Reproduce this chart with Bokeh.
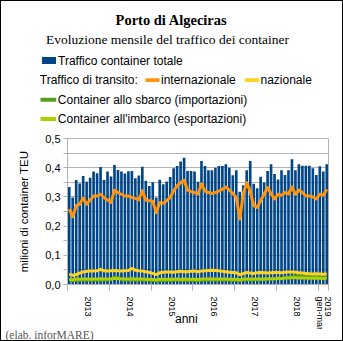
import math
from bokeh.plotting import figure
from bokeh.layouts import column
from bokeh.models import Range1d, FixedTicker, ColumnDataSource
from bokeh.core.properties import value
from bokeh.embed import file_html
from bokeh.resources import INLINE

# ---------------- data (milioni di TEU, mensile gen-2013 .. mar-2019) ----------------
total = [
    0.334, 0.298, 0.358, 0.346, 0.372, 0.352, 0.366, 0.387, 0.381, 0.402, 0.358, 0.387,  # 2013
    0.370, 0.409, 0.392, 0.387, 0.380, 0.388, 0.389, 0.364, 0.373, 0.403, 0.355, 0.337,  # 2014
    0.350, 0.298, 0.359, 0.343, 0.353, 0.368, 0.398, 0.406, 0.421, 0.434, 0.389, 0.389,  # 2015
    0.387, 0.352, 0.423, 0.406, 0.391, 0.391, 0.400, 0.406, 0.406, 0.412, 0.400, 0.374,  # 2016
    0.391, 0.318, 0.340, 0.391, 0.423, 0.345, 0.330, 0.369, 0.349, 0.389, 0.412, 0.378,  # 2017
    0.360, 0.391, 0.375, 0.391, 0.429, 0.391, 0.412, 0.407, 0.407, 0.407, 0.398, 0.375,  # 2018
    0.405, 0.387, 0.412,                                                                  # 2019
]
transit_int = [
    0.258, 0.232, 0.270, 0.275, 0.296, 0.275, 0.289, 0.303, 0.303, 0.309, 0.298, 0.289,
    0.281, 0.323, 0.315, 0.309, 0.303, 0.303, 0.298, 0.295, 0.290, 0.321, 0.289, 0.287,
    0.285, 0.246, 0.281, 0.278, 0.287, 0.298, 0.321, 0.338, 0.349, 0.357, 0.323, 0.318,
    0.315, 0.310, 0.345, 0.320, 0.315, 0.312, 0.315, 0.320, 0.326, 0.334, 0.323, 0.312,
    0.298, 0.224, 0.310, 0.349, 0.320, 0.270, 0.264, 0.287, 0.309, 0.332, 0.311, 0.293,
    0.309, 0.305, 0.315, 0.310, 0.334, 0.309, 0.323, 0.315, 0.303, 0.303, 0.300, 0.293,
    0.309, 0.305, 0.326,
]
transit_naz = [
    0.036, 0.031, 0.034, 0.039, 0.043, 0.045, 0.046, 0.046, 0.047, 0.052, 0.047, 0.046,
    0.047, 0.048, 0.047, 0.046, 0.047, 0.048, 0.055, 0.049, 0.047, 0.046, 0.044, 0.041,
    0.038, 0.034, 0.040, 0.042, 0.043, 0.043, 0.042, 0.044, 0.045, 0.044, 0.044, 0.045,
    0.046, 0.044, 0.046, 0.047, 0.048, 0.049, 0.048, 0.047, 0.045, 0.044, 0.042, 0.041,
    0.040, 0.034, 0.037, 0.041, 0.039, 0.038, 0.040, 0.041, 0.040, 0.039, 0.040, 0.041,
    0.041, 0.040, 0.042, 0.043, 0.043, 0.042, 0.040, 0.039, 0.038, 0.037, 0.036, 0.037,
    0.036, 0.035, 0.037,
]
imports = [
    0.016, 0.013, 0.015, 0.015, 0.016, 0.015, 0.015, 0.016, 0.015, 0.016, 0.015, 0.016,
    0.018, 0.026, 0.024, 0.019, 0.016, 0.015, 0.016, 0.015, 0.016, 0.015, 0.015, 0.014,
    0.014, 0.012, 0.014, 0.014, 0.015, 0.014, 0.015, 0.015, 0.014, 0.015, 0.014, 0.014,
    0.014, 0.013, 0.015, 0.015, 0.015, 0.015, 0.016, 0.015, 0.015, 0.016, 0.015, 0.014,
    0.015, 0.013, 0.016, 0.016, 0.015, 0.016, 0.016, 0.017, 0.017, 0.018, 0.019, 0.020,
    0.021, 0.021, 0.024, 0.025, 0.027, 0.029, 0.030, 0.029, 0.028, 0.028, 0.027, 0.027,
    0.026, 0.025, 0.027,
]
exports = [
    0.018, 0.016, 0.019, 0.018, 0.019, 0.019, 0.018, 0.019, 0.019, 0.020, 0.019, 0.019,
    0.019, 0.021, 0.020, 0.019, 0.019, 0.019, 0.020, 0.019, 0.019, 0.019, 0.018, 0.018,
    0.017, 0.016, 0.018, 0.018, 0.018, 0.018, 0.018, 0.019, 0.018, 0.019, 0.018, 0.018,
    0.018, 0.017, 0.019, 0.019, 0.019, 0.019, 0.019, 0.019, 0.019, 0.019, 0.018, 0.018,
    0.018, 0.016, 0.019, 0.019, 0.019, 0.019, 0.019, 0.019, 0.019, 0.020, 0.020, 0.020,
    0.021, 0.020, 0.022, 0.022, 0.023, 0.023, 0.022, 0.022, 0.022, 0.021, 0.021, 0.021,
    0.021, 0.020, 0.022,
]

year_bounds = [0, 12, 24, 36, 48, 60, 72, 75]
year_label_pos = [6, 18, 30, 42, 54, 66, 72.5, 74.95]
year_labels = ["2013", "2014", "2015", "2016", "2017", "2018", "gen-mar", "2019"]
y_ticks = [0.0, 0.1, 0.2, 0.3, 0.4, 0.5]
y_tick_labels = ["0,0", "0,1", "0,2", "0,3", "0,4", "0,5"]
y_minor = [0.05, 0.15, 0.25, 0.35, 0.45]

legend_texts = ["Traffico container totale", "Traffico di transito:", "internazionale",
                "nazionale", "Container allo sbarco (importazioni)",
                "Container all'imbarco (esportazioni)"]
legend_colors = ["#004586", "#ff950e", "#ffd320", "#579d1c", "#aecf00"]

n = len(total)
xs = [i + 0.5 for i in range(n)]
src = ColumnDataSource(dict(x=xs, total=total, ti=transit_int, tn=transit_naz,
                            imp=imports, exp=exports))

SANS = "Liberation Sans"
SERIF = "Liberation Serif"
GRID = "#b3b3b3"
IW = 341            # inner width (inside 1px black frame)
HH = 129            # header height  (page y 1..130)
MH = 199            # main height    (page y 130..329)
FH = 11             # footer height  (page y 329..340)


def blank_fig(height, y0):
    f = figure(width=IW, height=height, output_backend="svg", toolbar_location=None,
               x_range=Range1d(1, 1 + IW), y_range=Range1d(y0 + height, y0),
               x_axis_type=None, y_axis_type=None, min_border=0)
    f.frame_align = False
    f.outline_line_color = None
    f.background_fill_color = "white"
    f.border_fill_color = "white"
    f.grid.visible = False
    return f

# ---------------- header: title + legend (data coords = page pixels) ----------------
h = blank_fig(HH, 1)
h.text(x=[171], y=[19], text=["Porto di Algeciras"], text_font=value(SERIF),
       text_font_size="14.5px", text_font_style="bold", text_align="center",
       text_baseline="middle", text_color="black")
h.text(x=[167], y=[38.5], text=["Evoluzione mensile del traffico dei container"],
       text_font=value(SERIF), text_font_size="13.5px", text_align="center",
       text_baseline="middle", text_color="black")
h.text(x=[57.5, 39.3, 160.5, 260, 57.3, 57.3], y=[60, 79.5, 79.5, 79.5, 99.3, 118.5],
       text=legend_texts, text_font=value(SANS), text_font_size="12px",
       text_align="left", text_baseline="middle", text_color="black")
h.quad(left=[41.5, 145, 244.3, 40, 40], right=[55.5, 159, 258.7, 55.7, 55.7],
       top=[56.5, 77.7, 77.7, 97.3, 116.6], bottom=[63.5, 81.5, 81.5, 101.2, 120.5],
       fill_color=legend_colors, line_color=None)

# ---------------- main chart ----------------
FL, FR, FT, FB = 66, 327, 8, 154   # frame inside the main figure
p = figure(width=IW, height=MH, output_backend="svg", toolbar_location=None,
           x_range=Range1d(0, 75), y_range=Range1d(0, 0.5),
           min_border_left=FL, min_border_right=IW - FR,
           min_border_top=FT, min_border_bottom=MH - FB)
p.frame_align = False
p.background_fill_color = "white"
p.border_fill_color = "white"
p.outline_line_color = GRID

p.vbar(x="x", top="total", width=0.76, source=src, fill_color="#004586", line_color=None)
p.line("x", "imp", source=src, line_color="#579d1c", line_width=3, line_join="round")
p.line("x", "exp", source=src, line_color="#aecf00", line_width=3, line_join="round")
p.line("x", "tn", source=src, line_color="#ffd320", line_width=3, line_join="round")
p.line("x", "ti", source=src, line_color="#ff950e", line_width=3, line_join="round")

ya = p.yaxis[0]
ya.ticker = FixedTicker(ticks=y_ticks, minor_ticks=y_minor)
ya.major_label_overrides = dict(zip(y_ticks, y_tick_labels))
ya.axis_line_color = GRID
ya.major_tick_line_color = GRID
ya.minor_tick_line_color = GRID
ya.major_tick_in = 0
ya.major_tick_out = 4
ya.minor_tick_in = 0
ya.minor_tick_out = 4
ya.major_label_standoff = 3
ya.major_label_text_font = SANS
ya.major_label_text_font_size = "11px"
ya.major_label_text_color = "black"
ya.axis_label = "milioni di container TEU"
ya.axis_label_text_font = SANS
ya.axis_label_text_font_size = "11.5px"
ya.axis_label_text_font_style = "normal"
ya.axis_label_text_color = "black"
ya.axis_label_standoff = 12

p.ygrid.grid_line_color = GRID
p.ygrid.minor_grid_line_color = GRID
p.xgrid.visible = False

xa = p.xaxis[0]
xa.ticker = FixedTicker(ticks=year_label_pos, minor_ticks=year_bounds)
xa.major_label_overrides = dict(zip(year_label_pos, year_labels))
xa.axis_line_color = GRID
xa.major_tick_line_color = None
xa.major_tick_in = 0
xa.major_tick_out = 0
xa.minor_tick_line_color = GRID
xa.minor_tick_in = 0
xa.minor_tick_out = 6
xa.major_label_orientation = -math.pi / 2
xa.major_label_standoff = 6
xa.major_label_text_font = SANS
xa.major_label_text_font_size = "9px"
xa.major_label_text_color = "black"
xa.axis_label = "anni" + "\u00a0" * 7
xa.axis_label_text_font = SANS
xa.axis_label_text_font_size = "12px"
xa.axis_label_text_font_style = "normal"
xa.axis_label_text_color = "black"
xa.axis_label_standoff = -21

# ---------------- footer: source note ----------------
foot = blank_fig(FH, 1 + HH + MH)
foot.text(x=[5], y=[333.5], text=["(elab. inforMARE)"], text_font=value(SERIF),
          text_font_size="11.5px", text_align="left", text_baseline="middle",
          text_color="#555555")

layout = column(h, p, foot, spacing=0, styles={"border": "1px solid black"})

open("out.html", "w").write(file_html(layout, INLINE))
